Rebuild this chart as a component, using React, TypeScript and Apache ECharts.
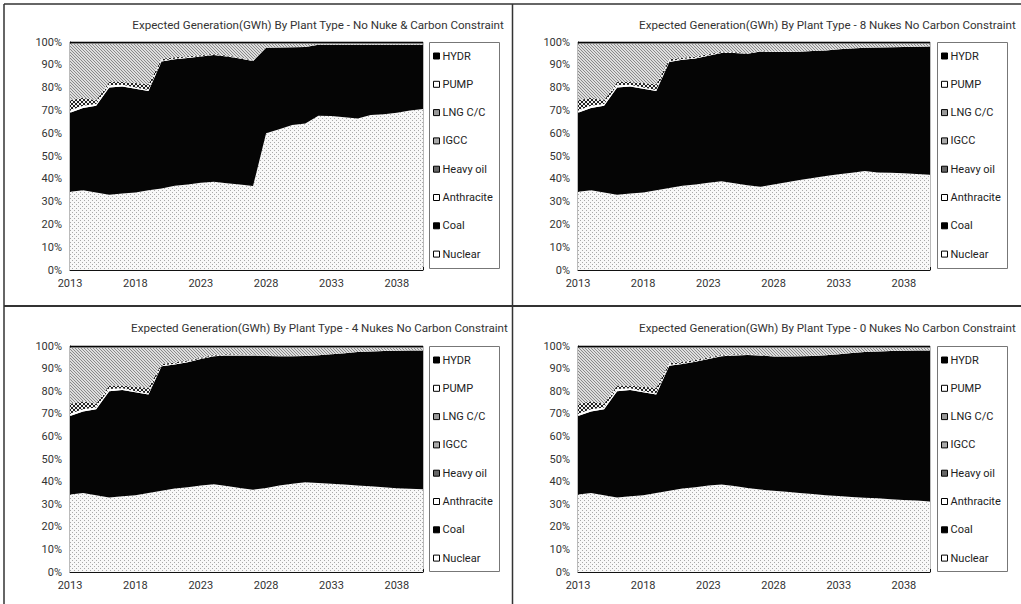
import React, { useEffect, useRef } from 'react';
import * as echarts from 'echarts';

const years = ['2013','2014','2015','2016','2017','2018','2019','2020','2021','2022','2023','2024','2025','2026','2027','2028','2029','2030','2031','2032','2033','2034','2035','2036','2037','2038','2039','2040'];
const yTicks = [0, 10, 20, 30, 40, 50, 60, 70, 80, 90, 100];

const seriesNames = ['Nuclear', 'Coal', 'Anthracite', 'Heavy oil', 'IGCC', 'LNG C/C', 'PUMP', 'HYDR'];
const legendOrder = ['HYDR', 'PUMP', 'LNG C/C', 'IGCC', 'Heavy oil', 'Anthracite', 'Coal', 'Nuclear'];

const titles = [
  'Expected Generation(GWh) By Plant Type - No Nuke & Carbon Constraint',
  'Expected Generation(GWh) By Plant Type - 8 Nukes No Carbon Constraint',
  'Expected Generation(GWh) By Plant Type - 4 Nukes No Carbon Constraint',
  'Expected Generation(GWh) By Plant Type - 0 Nukes No Carbon Constraint',
];

// shared small bands (percent share)
const anthracite = [1.0,1.0,0.8,1.0,0.8,0.5,0.5,0.4,0.3,0.3,0.2,0.2,0.2,0.2,0.2,0.1,0.1,0.1,0.1,0.1,0.1,0.1,0.1,0.1,0.1,0.1,0.1,0.1];
const heavyOil = [4.5,3.5,1.7,1.5,1.2,2.0,2.5,0.8,0.6,0.5,0.4,0.3,0.3,0.2,0.2,0,0,0,0,0,0,0,0,0,0,0,0,0];
const igcc = [0,0,0,0,0,0,0,0,0,0,0,0,0,0,0,0,0,0,0,0,0,0,0,0,0,0,0,0];
const pump = [0.2,0.2,0.2,0.2,0.2,0.2,0.2,0.2,0.2,0.2,0.2,0.2,0.2,0.2,0.2,0.2,0.2,0.2,0.2,0.2,0.2,0.2,0.2,0.2,0.2,0.2,0.2,0.2];
const hydr = [0.7,0.7,0.7,0.7,0.7,0.7,0.7,0.7,0.7,0.7,0.7,0.7,0.7,0.7,0.7,0.7,0.7,0.7,0.7,0.7,0.7,0.7,0.7,0.7,0.7,0.7,0.7,0.7];

// Panel 1: No Nuke & Carbon Constraint
const nuclear1 = [34.3,35.0,34.0,33.0,33.5,34.0,35.0,35.8,37.0,37.5,38.3,38.7,38.0,37.5,36.8,60.0,61.7,63.6,64.3,67.7,67.5,67.0,66.5,68.0,68.3,69.0,70.0,70.6];
const coal1 = [34.7,36.0,38.0,47.0,47.0,45.5,43.5,55.6,55.4,55.5,55.3,55.6,55.6,55.3,54.9,37.5,35.9,34.1,33.5,31.1,31.3,31.8,32.3,30.8,30.5,29.8,28.8,28.2];
const lng1 = [24.6,23.6,24.6,16.6,16.6,17.1,17.6,6.5,5.8,5.3,4.9,4.3,5.0,5.9,7.0,1.5,1.4,1.3,1.2,0.2,0.2,0.2,0.2,0.2,0.2,0.2,0.2,0.2];

// Panel 2: 8 Nukes
const nuclear2 = [34.3,35.0,34.0,33.0,33.5,34.0,35.0,36.0,37.0,37.5,38.3,38.9,38.0,37.2,36.5,37.5,38.5,39.5,40.3,41.2,42.0,42.7,43.4,42.8,42.6,42.4,42.1,41.8];
const coal2 = [34.7,36.0,38.0,47.0,47.0,45.5,43.5,55.2,55.2,55.3,55.7,56.3,57.2,57.6,59.3,58.1,57.1,56.2,55.7,55.1,54.8,54.4,54.1,54.8,55.1,55.4,55.8,56.2];
const lng2 = [24.6,23.6,24.6,16.6,16.6,17.1,17.6,6.7,6.0,5.5,4.5,3.4,3.4,3.9,2.9,3.4,3.4,3.3,3.0,2.7,2.2,1.9,1.5,1.4,1.3,1.2,1.1,1.0];

// Panel 3: 4 Nukes
const nuclear3 = [34.3,35.0,34.0,33.0,33.5,34.0,35.0,36.0,37.0,37.5,38.3,38.8,38.0,37.2,36.4,37.2,38.3,39.0,39.7,39.4,39.0,38.7,38.3,37.9,37.5,37.1,36.8,36.6];
const coal3 = [34.7,36.0,38.0,47.0,47.0,45.5,43.5,55.0,54.8,55.3,55.9,56.7,57.8,58.6,59.4,58.4,57.2,56.5,55.9,56.5,57.3,58.1,59.0,59.7,60.3,60.8,61.2,61.4];
const lng3 = [24.6,23.6,24.6,16.6,16.6,17.1,17.6,6.9,6.4,5.5,4.3,3.1,2.8,2.9,2.9,3.4,3.5,3.5,3.4,3.1,2.7,2.2,1.7,1.4,1.2,1.1,1.0,1.0];

// Panel 4: 0 Nukes
const nuclear4 = [34.3,35.0,34.0,33.0,33.5,34.0,35.0,36.0,37.0,37.5,38.3,38.7,38.0,37.2,36.5,36.0,35.5,35.0,34.5,34.0,33.6,33.2,32.9,32.6,32.2,31.9,31.6,31.2];
const coal4 = [34.7,36.0,38.0,47.0,47.0,45.5,43.5,55.3,55.0,55.5,56.0,56.8,57.8,58.8,59.3,59.4,59.9,60.5,61.1,61.9,62.8,63.7,64.4,65.0,65.6,66.0,66.4,66.8];
const lng4 = [24.6,23.6,24.6,16.6,16.6,17.1,17.6,6.6,6.2,5.3,4.2,3.1,2.8,2.7,2.9,3.6,3.6,3.5,3.4,3.1,2.6,2.1,1.7,1.4,1.2,1.1,1.0,1.0];

const panels = [
  { nuclear: nuclear1, coal: coal1, lng: lng1 },
  { nuclear: nuclear2, coal: coal2, lng: lng2 },
  { nuclear: nuclear3, coal: coal3, lng: lng3 },
  { nuclear: nuclear4, coal: coal4, lng: lng4 },
];

const FONT = "Roboto, 'Liberation Sans', sans-serif";

function makePattern(w: number, h: number, bg: string, fg: string, pts: number[][]) {
  const c = document.createElement('canvas');
  c.width = w;
  c.height = h;
  const ctx = c.getContext('2d')!;
  ctx.fillStyle = bg;
  ctx.fillRect(0, 0, w, h);
  ctx.fillStyle = fg;
  pts.forEach(([x, y]) => ctx.fillRect(x, y, 1, 1));
  return { image: c, repeat: 'repeat' } as any;
}

export default function App() {
  const ref = useRef<HTMLDivElement>(null);
  useEffect(() => {
    document.body.style.margin = '0';
    const chart = echarts.init(ref.current!, null, { renderer: 'svg' });

    const dots = makePattern(4, 4, '#f8f8f8', '#a8a8a8', [[0, 0], [2, 2]]);
    const diag = makePattern(3, 3, '#dedede', '#8a8a8a', [[0, 0], [1, 1], [2, 2]]);
    const cross = makePattern(4, 4, '#f0f0f0', '#222', [[0, 0], [1, 1], [2, 2], [3, 3], [3, 0], [2, 1], [1, 2], [0, 3]]);
    const grid = makePattern(3, 3, '#d0d0d0', '#555', [[0, 0], [1, 0], [2, 0], [0, 1], [0, 2]]);

    const fills: Record<string, any> = {
      Nuclear: dots,
      Coal: '#050505',
      Anthracite: '#ffffff',
      'Heavy oil': cross,
      IGCC: grid,
      'LNG C/C': diag,
      PUMP: '#ffffff',
      HYDR: '#050505',
    };
    const legendFills: Record<string, any> = {
      Nuclear: '#ffffff',
      Coal: '#000000',
      Anthracite: '#ffffff',
      'Heavy oil': '#666666',
      IGCC: '#aaaaaa',
      'LNG C/C': '#999999',
      PUMP: '#ffffff',
      HYDR: '#000000',
    };

    const grids = [
      { left: 70, top: 42, width: 353, height: 228 },
      { left: 578, top: 42, width: 352, height: 228 },
      { left: 70, top: 346, width: 353, height: 226 },
      { left: 578, top: 346, width: 352, height: 226 },
    ];
    const titlePos = [
      { right: 517, top: 19 },
      { right: 5, top: 19 },
      { right: 513, top: 322 },
      { right: 5, top: 322 },
    ];
    const legendBoxes = [
      { x: 429, y: 42, w: 70, h: 226 },
      { x: 937, y: 42, w: 70, h: 226 },
      { x: 429, y: 346, w: 70, h: 225 },
      { x: 937, y: 346, w: 70, h: 225 },
    ];

    const series: any[] = [];
    panels.forEach((p, i) => {
      const values: Record<string, number[]> = {
        Nuclear: p.nuclear,
        Coal: p.coal,
        Anthracite: anthracite,
        'Heavy oil': heavyOil,
        IGCC: igcc,
        'LNG C/C': p.lng,
        PUMP: pump,
        HYDR: hydr,
      };
      seriesNames.forEach((name) => {
        series.push({
          name,
          type: 'line',
          xAxisIndex: i,
          yAxisIndex: i,
          stack: 'panel' + i,
          data: values[name],
          symbol: 'none',
          showSymbol: false,
          lineStyle: { width: 0 },
          itemStyle: { color: legendFills[name] },
          areaStyle: { color: fills[name], opacity: 1 },
          emphasis: { disabled: true },
        });
      });
    });

    const option: any = {
      animation: false,
      textStyle: { fontFamily: FONT },
      title: titles.map((t, i) => ({
        text: t,
        right: titlePos[i].right,
        top: titlePos[i].top,
        padding: 0,
        textStyle: { fontSize: 11.6, fontWeight: 'normal', color: '#333', fontFamily: FONT },
      })),
      grid: grids.map((g) => ({ ...g, show: true, borderColor: '#777', borderWidth: 1, backgroundColor: 'transparent' })),
      xAxis: grids.map((_, i) => ({
        type: 'category',
        gridIndex: i,
        data: years,
        boundaryGap: false,
        axisLine: { lineStyle: { color: '#111', width: 1 } },
        axisTick: { show: true, inside: true, interval: 0, length: 3, lineStyle: { color: '#111' } },
        axisLabel: { interval: 4, color: '#333', fontSize: 11, margin: 8, fontFamily: FONT },
        splitLine: { show: false },
      })),
      yAxis: grids.map((_, i) => ({
        type: 'value',
        gridIndex: i,
        min: yTicks[0],
        max: yTicks[yTicks.length - 1],
        interval: 10,
        axisLine: { show: true, lineStyle: { color: '#111', width: 1 } },
        axisTick: { show: true, inside: true, length: 2, lineStyle: { color: '#111' } },
        axisLabel: { formatter: '{value}%', color: '#333', fontSize: 11, margin: 8, fontFamily: FONT },
        splitLine: { show: false },
      })),
      legend: legendBoxes.map((b) => ({
        orient: 'vertical',
        left: b.x + 4,
        top: b.y + 7,
        padding: 0,
        itemGap: 14.3,
        itemWidth: 6,
        itemHeight: 6,
        icon: 'rect',
        selectedMode: false,
        textStyle: { fontSize: 11, color: '#222', lineHeight: 14, fontFamily: FONT, padding: [0, 0, 0, -2] },
        data: legendOrder.map((n) => ({
          name: n,
          itemStyle: { color: legendFills[n], borderColor: '#000', borderWidth: 1 },
        })),
      })),
      graphic: [
        ...legendBoxes.map((b) => ({
          type: 'rect',
          silent: true,
          shape: { x: b.x + 0.5, y: b.y + 0.5, width: b.w, height: b.h },
          style: { fill: 'none', stroke: '#777', lineWidth: 1 },
        })),
        { type: 'line', silent: true, shape: { x1: 4, y1: 4, x2: 1021, y2: 4 }, style: { stroke: '#333', lineWidth: 1.5 } },
        { type: 'line', silent: true, shape: { x1: 4, y1: 4, x2: 4, y2: 604 }, style: { stroke: '#333', lineWidth: 1.5 } },
        { type: 'line', silent: true, shape: { x1: 512.5, y1: 4, x2: 512.5, y2: 604 }, style: { stroke: '#333', lineWidth: 1.5 } },
        { type: 'line', silent: true, shape: { x1: 4, y1: 306, x2: 1021, y2: 306 }, style: { stroke: '#333', lineWidth: 2 } },
      ],
      series,
    };

    chart.setOption(option);
    return () => chart.dispose();
  }, []);
  return <div ref={ref} style={{ width: 1021, height: 604 }} />;
}
